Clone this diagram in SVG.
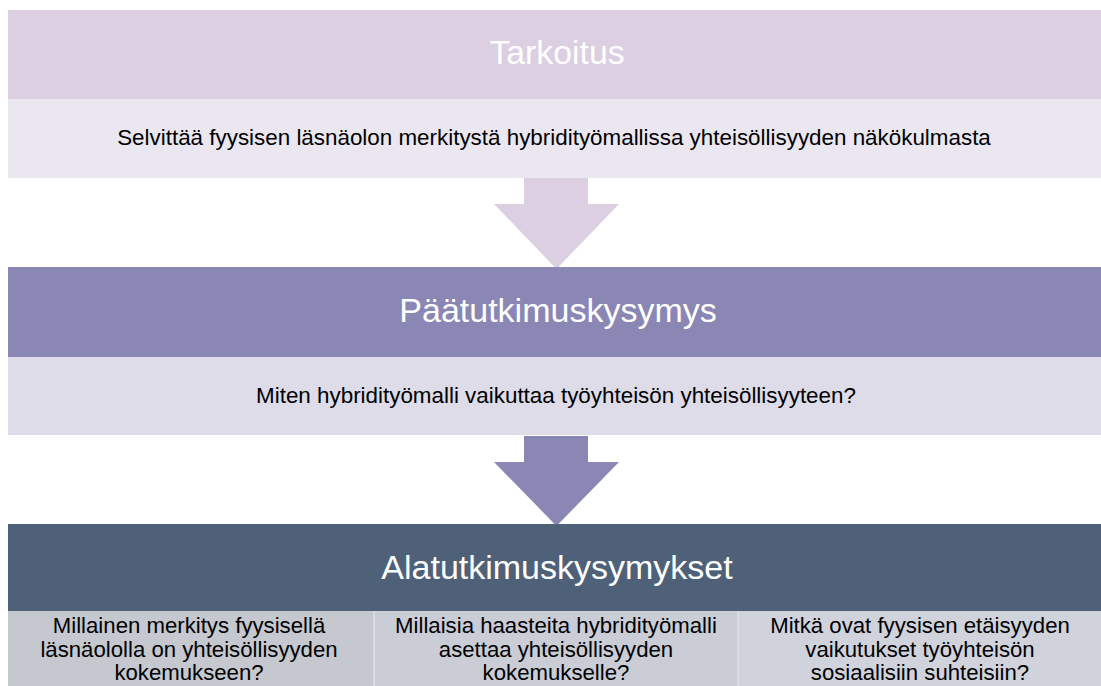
<svg xmlns="http://www.w3.org/2000/svg" width="1101" height="686" viewBox="0 0 1101 686">
<style>
.h{font-family:"Liberation Sans",Arial,sans-serif;fill:#ffffff;text-anchor:middle;font-size:34px}
.t{font-family:"Liberation Sans",Arial,sans-serif;fill:#000000;text-anchor:middle;font-size:22.4px}
.q{font-family:"Liberation Sans",Arial,sans-serif;fill:#000000;text-anchor:middle;font-size:22.2px}
</style>
<rect x="0" y="0" width="1101" height="686" fill="#ffffff"/>
<g id="connectors">
<polygon points="524,178 588,178 588,204 619,204 556.5,269 494,204 524,204" fill="#DBCFE1"/>
<polygon points="524,436 588,436 588,462 619,462 556.5,526 494,462 524,462" fill="#8A87B5"/>
</g>
<g id="tarkoitus">
<rect x="8" y="10" width="1093" height="89" fill="#DBCFE1"/>
<text class="h" x="557" y="64" style="font-size:33.8px">Tarkoitus</text>
</g>
<g id="tarkoitus-text">
<rect x="8" y="99" width="1093" height="79" fill="#EBE7F0"/>
<text class="t" x="554" y="145">Selvittää fyysisen läsnäolon merkitystä hybridityömallissa yhteisöllisyyden näkökulmasta</text>
</g>
<g id="paatutkimuskysymys">
<rect x="8" y="267" width="1093" height="90" fill="#8A87B5"/>
<text class="h" x="558" y="322">Päätutkimuskysymys</text>
</g>
<g id="paatutkimuskysymys-text">
<rect x="8" y="357" width="1093" height="78" fill="#DEDCE8"/>
<text class="t" x="556" y="403">Miten hybridityömalli vaikuttaa työyhteisön yhteisöllisyyteen?</text>
</g>
<g id="alatutkimuskysymykset">
<rect x="8" y="524" width="1093" height="87" fill="#4E6179"/>
<text class="h" x="557" y="579">Alatutkimuskysymykset</text>
</g>
<rect x="8" y="611" width="1093" height="75" fill="#D9DBE1"/>
<g id="q1">
<rect x="8" y="611" width="365" height="75" fill="#C5C8CF"/>
<text class="q" x="189" y="633">Millainen merkitys fyysisellä</text>
<text class="q" x="189" y="656.5">läsnäololla on yhteisöllisyyden</text>
<text class="q" x="189" y="680">kokemukseen?</text>
</g>
<g id="q2">
<rect x="375" y="611" width="362" height="75" fill="#CACDD6"/>
<text class="q" x="556" y="633">Millaisia haasteita hybridityömalli</text>
<text class="q" x="556" y="656.5">asettaa yhteisöllisyyden</text>
<text class="q" x="556" y="680">kokemukselle?</text>
</g>
<g id="q3">
<rect x="739" y="611" width="362" height="75" fill="#D0D3DC"/>
<text class="q" x="920" y="633">Mitkä ovat fyysisen etäisyyden</text>
<text class="q" x="920" y="656.5">vaikutukset työyhteisön</text>
<text class="q" x="920" y="680">sosiaalisiin suhteisiin?</text>
</g>
</svg>
